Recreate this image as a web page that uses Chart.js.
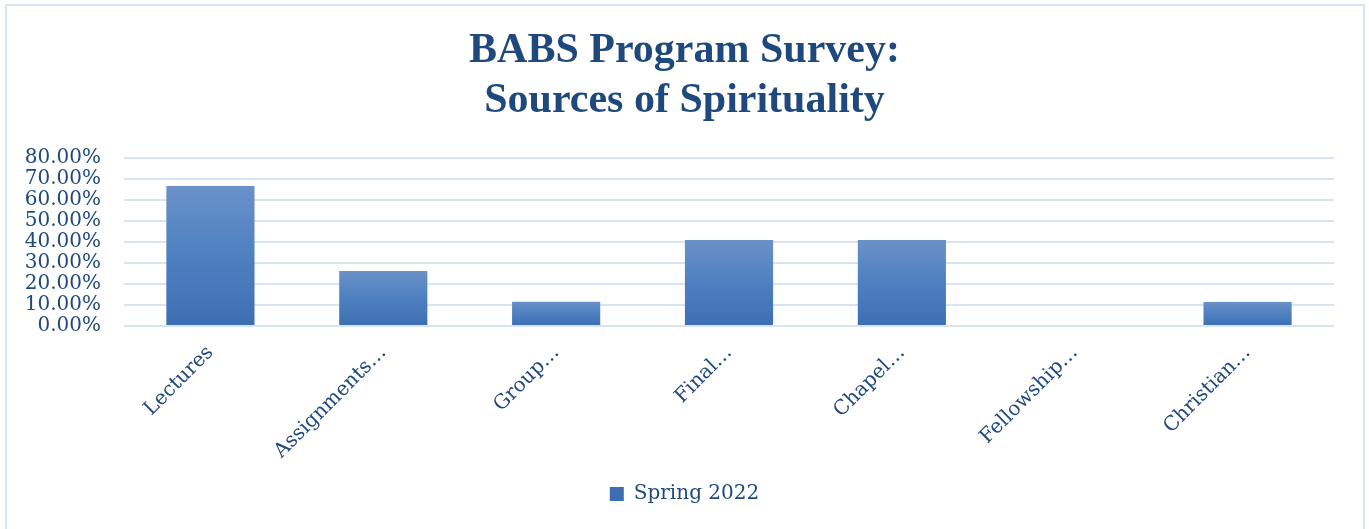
<!DOCTYPE html>
<html>
<head>
<meta charset="utf-8">
<title>BABS Program Survey</title>
<script src="https://cdn.jsdelivr.net/npm/chart.js@4.4.1/dist/chart.umd.min.js"></script>
<style>
  html, body { margin: 0; padding: 0; background: #fff; }
  #wrap { position: relative; width: 1369px; height: 529px; overflow: hidden; }
  #frame {
    position: absolute; left: 5px; top: 4px; width: 1356px; height: 560px;
    border: 2px solid #d9e3f2; pointer-events: none;
  }
  #chartBox { position: absolute; left: 0; top: 0; width: 1369px; height: 529px; }
</style>
</head>
<body>
<div id="wrap">
  <div id="chartBox"><canvas id="chartSpirit"></canvas></div>
  <div id="frame"></div>
</div>
<script>
// Fontes de espiritualidade - pesquisa do programa BABS
const categorias = ['Lectures', 'Assignments…', 'Group…', 'Final…', 'Chapel…', 'Fellowship…', 'Christian…'];
const spring2022 = [66.7, 26.2, 11.6, 41.0, 41.0, 0, 11.4];
const rotuloSerie = 'Spring 2022';
const tituloLinhas = ['BABS Program Survey:', 'Sources of Spirituality'];
const yTicks = [0, 10, 20, 30, 40, 50, 60, 70, 80];

const corTexto = '#1f497d';
const corGrade = '#d9e3f2';
const serif = '"DejaVu Serif", "Liberation Serif", serif';
const serifTitulo = '"Liberation Serif", "DejaVu Serif", serif';

// gradiente vertical por barra (claro em cima, escuro em baixo)
function corBarra(ctx) {
  const chart = ctx.chart;
  const y = chart.scales && chart.scales.y;
  if (ctx.type !== 'data' || !y || !chart.chartArea) return '#5583c2';
  const topo = y.getPixelForValue(ctx.raw);
  const base = y.getPixelForValue(0);
  if (!(base - topo > 0)) return '#5583c2';
  const g = chart.ctx.createLinearGradient(0, topo, 0, base);
  g.addColorStop(0, '#6a91c8');
  g.addColorStop(0.5, '#4e80c1');
  g.addColorStop(1, '#3c6fb2');
  return g;
}

// título e legenda centralizados no canvas inteiro, não só na área do gráfico
const centralizaTextos = {
  id: 'centralizaTextos',
  afterLayout(chart) {
    const meio = chart.width / 2;
    [chart.titleBlock, chart.legend].forEach(box => {
      if (!box) return;
      const dx = meio - (box.left + box.right) / 2;
      box.left += dx;
      box.right += dx;
    });
  }
};

const el = document.getElementById('chartSpirit');
new Chart(el, {
  type: 'bar',
  data: {
    labels: categorias,
    datasets: [{
      label: rotuloSerie,
      data: spring2022,
      backgroundColor: corBarra,
      borderWidth: 0,
      categoryPercentage: 1,
      barPercentage: 0.51
    }]
  },
  plugins: [centralizaTextos],
  options: {
    responsive: true,
    maintainAspectRatio: false,
    animation: false,
    layout: { padding: { left: 20, right: 35, top: 26, bottom: 15 } },
    plugins: {
      tooltip: { enabled: false },
      title: {
        display: true,
        text: tituloLinhas,
        color: corTexto,
        font: { family: serifTitulo, size: 42, weight: 'bold', lineHeight: 50 / 42 },
        padding: { top: 0, bottom: 32 }
      },
      legend: {
        position: 'bottom',
        labels: {
          color: corTexto,
          font: { family: serif, size: 20 },
          boxWidth: 14,
          boxHeight: 14,
          padding: 10
        }
      }
    },
    scales: {
      y: {
        min: 0,
        max: 80,
        afterFit(scale) { scale.width = 104; },
        afterBuildTicks(scale) { scale.ticks = yTicks.map(v => ({ value: v })); },
        border: { display: false },
        grid: { color: corGrade, lineWidth: 2, drawTicks: false },
        ticks: {
          color: corTexto,
          font: { family: serif, size: 20 },
          padding: 23,
          autoSkip: false,
          callback: v => v.toFixed(2) + '%'
        }
      },
      x: {
        afterFit(scale) { scale.height = 148; },
        border: { display: false },
        grid: { display: false, drawTicks: false },
        ticks: {
          color: corTexto,
          font: { family: serif, size: 20 },
          minRotation: 45,
          maxRotation: 45,
          autoSkip: false,
          padding: 15
        }
      }
    }
  }
});
</script>
</body>
</html>
